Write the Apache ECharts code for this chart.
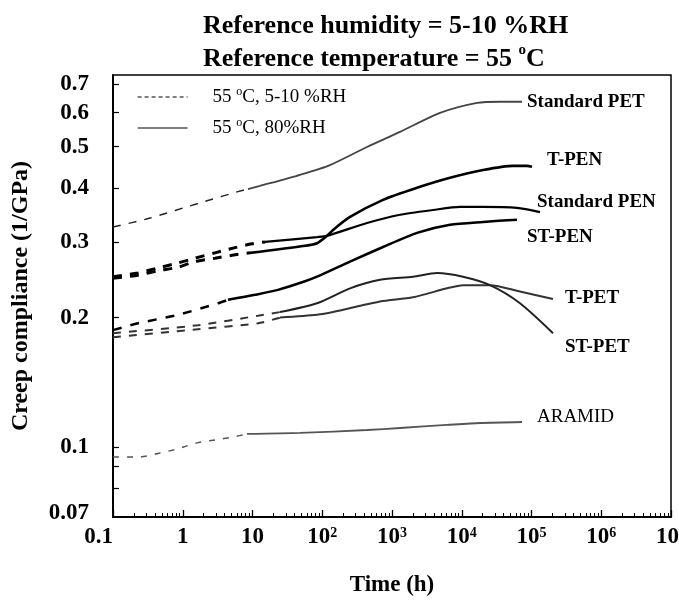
<!DOCTYPE html>
<html><head><meta charset="utf-8">
<script src="https://cdn.jsdelivr.net/npm/echarts@6/dist/echarts.min.js"></script>
<style>html,body{margin:0;padding:0;background:#fff}#c{width:679px;height:601px}</style>
</head><body><div id="c"></div>
<script>
// ---- data: time (h) and creep compliance (1/GPa) ----
const stdPetDryT = [0.1, 0.339, 1.77, 7.8, 8.6];
const stdPetDryC = [0.325, 0.341, 0.370, 0.397, 0.398];
const stdPetWetT = [8.6, 12.8, 48, 129, 438, 1300, 4880, 16600, 35300, 73100];
const stdPetWetC = [0.398, 0.405, 0.430, 0.453, 0.499, 0.541, 0.599, 0.632, 0.636, 0.636];

const tPenDryT = [0.1, 0.228, 0.441, 0.855, 1.50, 2.90, 5.61, 9.2];
const tPenDryC = [0.247, 0.251, 0.257, 0.262, 0.270, 0.275, 0.280, 0.283];
const tPenWetT = [9.2, 56.6, 84.1, 117, 143, 250, 743, 2281, 6790, 20190, 54300, 86130, 101700];
const tPenWetC = [0.283, 0.294, 0.298, 0.310, 0.320, 0.343, 0.376, 0.401, 0.423, 0.441, 0.451, 0.451, 0.449];

const stdPenDryT = [0.1, 0.228, 0.441, 0.855, 1.50, 2.90, 5.61, 9.84, 15.1];
const stdPenDryC = [0.249, 0.254, 0.261, 0.268, 0.275, 0.283, 0.291, 0.297, 0.300];
const stdPenWetT = [15.1, 84.1, 117, 438, 1300, 3870, 9440, 20190, 61940, 132300];
const stdPenWetC = [0.300, 0.308, 0.310, 0.332, 0.347, 0.356, 0.362, 0.362, 0.360, 0.352];

const stPenDryT = [0.1, 0.228, 0.855, 3.20, 4.45];
const stPenDryC = [0.187, 0.194, 0.203, 0.216, 0.220];
const stPenWetT = [4.45, 10.9, 23.2, 56.6, 84.1, 250, 743, 2281, 6790, 20190, 61940];
const stPenWetC = [0.220, 0.226, 0.232, 0.243, 0.249, 0.270, 0.292, 0.315, 0.329, 0.334, 0.338];

const tPetDryT = [0.1, 1.65, 12.0, 24.8];
const tPetDryC = [0.180, 0.188, 0.194, 0.200];
const tPetWetT = [24.8, 84.1, 143, 673, 2000, 6146, 10400, 25430, 68390, 203300];
const tPetWetC = [0.200, 0.203, 0.206, 0.218, 0.223, 0.234, 0.238, 0.238, 0.230, 0.221];

const stPetDryT = [0.1, 1.65, 12.0, 24.8];
const stPetDryC = [0.184, 0.192, 0.202, 0.206];
const stPetWetT = [24.8, 84.1, 250, 673, 2000, 4416, 10400, 25430, 68390, 203300];
const stPetWetC = [0.206, 0.216, 0.234, 0.245, 0.249, 0.254, 0.249, 0.238, 0.216, 0.184];

const aramidDryT = [0.1, 0.244, 0.472, 0.828, 1.60, 2.90, 5.25, 8.34];
const aramidDryC = [0.0948, 0.0948, 0.0968, 0.0989, 0.1022, 0.1038, 0.1055, 0.1072];
const aramidWetT = [8.34, 48, 438, 1303, 6146, 18280, 73100];
const aramidWetC = [0.1072, 0.1078, 0.1095, 0.1107, 0.1125, 0.1137, 0.1143];

const xMajorTicks = [0.1, 1, 10, 100, 1e3, 1e4, 1e5, 1e6, 1e7];
const xMinorTicks = [];
for (const d of [0.1, 1, 10, 100, 1e3, 1e4, 1e5, 1e6]) for (let k = 2; k <= 9; k++) xMinorTicks.push(+(d * k).toPrecision(3));
const yTickValues = [0.08, 0.09, 0.1, 0.2, 0.3, 0.4, 0.5, 0.6, 0.7];
const yLabelValues = [0.07, 0.1, 0.2, 0.3, 0.4, 0.5, 0.6, 0.7];

const DRY = 'dry', WET = 'wet';
const FONT = '"Liberation Serif", "Times New Roman", serif';

function pairs(t, c) { return t.map((v, i) => [v, c[i]]); }

const curves = [
  { t: stdPetDryT, c: stdPetDryC, name: DRY, color: '#222', w: 1.4, dash: [8, 8] },
  { t: stdPetWetT, c: stdPetWetC, name: WET, color: '#444', w: 1.8 },
  { t: tPenDryT, c: tPenDryC, name: DRY, color: '#000', w: 3, dash: [9, 8] },
  { t: tPenWetT, c: tPenWetC, name: WET, color: '#000', w: 2.6 },
  { t: stdPenDryT, c: stdPenDryC, name: DRY, color: '#000', w: 3, dash: [9, 8] },
  { t: stdPenWetT, c: stdPenWetC, name: WET, color: '#000', w: 2.2 },
  { t: stPenDryT, c: stPenDryC, name: DRY, color: '#000', w: 2.5, dash: [9, 9] },
  { t: stPenWetT, c: stPenWetC, name: WET, color: '#000', w: 2.5 },
  { t: tPetDryT, c: tPetDryC, name: DRY, color: '#333', w: 2, dash: [8, 8] },
  { t: tPetWetT, c: tPetWetC, name: WET, color: '#333', w: 2 },
  { t: stPetDryT, c: stPetDryC, name: DRY, color: '#333', w: 2, dash: [8, 8] },
  { t: stPetWetT, c: stPetWetC, name: WET, color: '#222', w: 2 },
  { t: aramidDryT, c: aramidDryC, name: DRY, color: '#555', w: 1.5, dash: [6, 8] },
  { t: aramidWetT, c: aramidWetC, name: WET, color: '#555', w: 1.8 }
];

const series = curves.map(cv => ({
  type: 'line', name: cv.name, data: pairs(cv.t, cv.c), symbol: 'none', smooth: 0.25,
  xAxisIndex: 0, yAxisIndex: 0, silent: true,
  lineStyle: { color: cv.color, width: cv.w, type: cv.dash ? cv.dash : 'solid' },
  itemStyle: { color: cv.color }
}));

const curveLabels = [
  { text: 'Standard PET', x: 527, y: 102, w: 'bold' },
  { text: 'T-PEN', x: 547, y: 160, w: 'bold' },
  { text: 'Standard PEN', x: 537, y: 202, w: 'bold' },
  { text: 'ST-PEN', x: 527, y: 237, w: 'bold' },
  { text: 'T-PET', x: 565, y: 298, w: 'bold' },
  { text: 'ST-PET', x: 565, y: 347, w: 'bold' },
  { text: 'ARAMID', x: 537, y: 417, w: 'normal' }
];

const chart = echarts.init(document.getElementById('c'), null, { renderer: 'canvas' });
chart.setOption({
  animation: false,
  backgroundColor: '#fff',
  title: {
    text: 'Reference humidity = 5-10 %RH\nReference temperature = 55 {s|o}C',
    left: 198, top: 5, textAlign: 'left',
    textStyle: {
      fontFamily: FONT, fontSize: 26, fontWeight: 'bold', color: '#000', lineHeight: 33,
      rich: { s: { fontFamily: FONT, fontSize: 15, fontWeight: 'bold', color: '#000', verticalAlign: 'top', lineHeight: 33 } }
    }
  },
  legend: {
    left: 137, top: 86, orient: 'vertical', itemWidth: 50, itemHeight: 14, itemGap: 9, padding: 0,
    selectedMode: false,
    data: [
      { name: DRY, itemStyle: { opacity: 0 }, lineStyle: { type: [4, 3], width: 1.2, color: '#000' } },
      { name: WET, itemStyle: { opacity: 0 }, lineStyle: { type: 'solid', width: 1.2, color: '#000' } }
    ],
    formatter: n => n === DRY ? '{t|55 }{s|o}{t|C, 5-10 %RH}' : '{t|55 }{s|o}{t|C, 80%RH}',
    textStyle: {
      fontFamily: FONT, fontSize: 19, color: '#000', lineHeight: 22, padding: [0, 0, 0, 20],
      rich: {
        t: { fontFamily: FONT, fontSize: 19, color: '#000' },
        s: { fontFamily: FONT, fontSize: 12, color: '#000', verticalAlign: 'top' }
      }
    }
  },
  grid: { left: 113, right: 8, top: 75, bottom: 84, show: true, borderColor: '#000', borderWidth: 1.5, outerBoundsMode: 'none', containLabel: false },
  xAxis: [
    {
      type: 'log', logBase: 10, min: 0.1, max: 1e7, position: 'bottom',
      name: 'Time (h)', nameLocation: 'middle', nameGap: 57,
      nameTextStyle: { fontFamily: FONT, fontSize: 23, fontWeight: 'bold', color: '#000' },
      axisLine: { show: true, lineStyle: { color: '#000', width: 2 } },
      axisTick: { show: true, inside: true, length: 7, customValues: xMajorTicks, lineStyle: { color: '#000', width: 1.3 } },
      axisLabel: {
        show: true, margin: 9, customValues: xMajorTicks, alignMinLabel: 'right',
        formatter: v => {
          const e = Math.round(Math.log10(v));
          if (e === -1) return '{n|0.1}';
          if (e === 0) return '{n|1}';
          if (e === 1) return '{n|10}';
          return '{n|10}{s|' + e + '}';
        },
        rich: {
          n: { fontFamily: FONT, fontSize: 23, fontWeight: 'bold', color: '#000' },
          s: { fontFamily: FONT, fontSize: 14, fontWeight: 'bold', color: '#000', verticalAlign: 'top' }
        }
      },
      splitLine: { show: false }, minorTick: { show: false }
    },
    {
      type: 'log', logBase: 10, min: 0.1, max: 1e7, position: 'bottom',
      axisLine: { show: false },
      axisTick: { show: true, inside: true, length: 4, customValues: xMinorTicks, lineStyle: { color: '#000', width: 1 } },
      axisLabel: { show: false }, splitLine: { show: false }
    }
  ],
  yAxis: {
    type: 'log', logBase: 10, min: 0.0687, max: 0.734,
    name: 'Creep compliance (1/GPa)', nameLocation: 'middle', nameGap: 80,
    nameTextStyle: { fontFamily: FONT, fontSize: 24, fontWeight: 'bold', color: '#000' },
    axisLine: { show: true, lineStyle: { color: '#000', width: 2 } },
    axisTick: { show: true, inside: true, length: 6, customValues: yTickValues, lineStyle: { color: '#000', width: 1.2 } },
    axisLabel: {
      show: true, margin: 24, customValues: yLabelValues,
      formatter: v => String(+v.toFixed(2)),
      fontFamily: FONT, fontSize: 23, fontWeight: 'bold', color: '#000'
    },
    splitLine: { show: false }
  },
  series: series,
  graphic: curveLabels.map(l => ({
    type: 'text', x: l.x, y: l.y, silent: true,
    style: { text: l.text, font: l.w + ' 19px ' + FONT, fill: '#000', textVerticalAlign: 'middle', verticalAlign: 'middle' }
  }))
});
</script></body></html>
